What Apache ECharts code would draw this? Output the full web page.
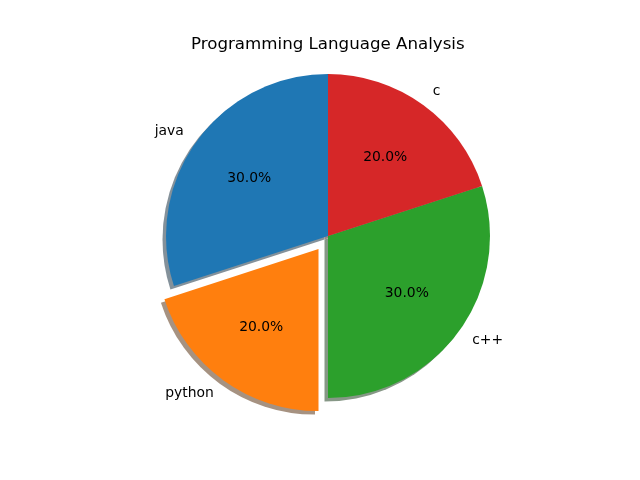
<!DOCTYPE html>
<html>
<head>
<meta charset="utf-8">
<script src="https://cdn.jsdelivr.net/npm/echarts@6/dist/echarts.min.js"></script>
<style>html,body{margin:0;padding:0;background:#fff}#c{width:640px;height:480px}</style>
</head>
<body>
<div id="c"></div>
<script>
const categories = ['java', 'python', 'c++', 'c'];
const values = [30, 20, 30, 20];
const colors = ['#1f77b4', '#ff7f0e', '#2ca02c', '#d62728'];
const shadowColors = ['rgb(132,145,154)', 'rgb(166,146,129)', 'rgb(134,151,134)', 'rgb(159,133,133)'];
const exploded = [false, true, false, false];
const titleText = 'Programming Language Analysis';

const R = 162, CX = 328, CY = 236;
const font = 'DejaVu Sans';

function items(colorArr) {
  return categories.map((name, i) => ({
    name: name,
    value: values[i],
    selected: exploded[i],
    itemStyle: { color: colorArr ? colorArr[i] : 'rgba(0,0,0,0)' }
  }));
}

const chart = echarts.init(document.getElementById('c'), null, { renderer: 'canvas' });
chart.setOption({
  animation: false,
  backgroundColor: '#ffffff',
  title: {
    text: titleText,
    left: 186,
    top: 31,
    textStyle: { fontFamily: font, fontSize: 16.67, fontWeight: 'normal', color: '#000' }
  },
  series: [
    {
      type: 'pie', silent: true, z: 1,
      center: [CX - 3.5, CY + 3.5], radius: [0, R],
      clockwise: false, startAngle: 90,
      selectedMode: 'multiple', selectedOffset: 16.2,
      avoidLabelOverlap: false,
      label: { show: false }, labelLine: { show: false },
      emphasis: { disabled: true },
      data: items(shadowColors)
    },
    {
      type: 'pie', silent: true, z: 2,
      center: [CX, CY], radius: [0, R],
      clockwise: false, startAngle: 90,
      selectedMode: 'multiple', selectedOffset: 16.2,
      avoidLabelOverlap: false,
      label: {
        show: true, position: 'outside', distanceToLabelLine: 0,
        fontFamily: font, fontSize: 13.9, color: '#000',
        formatter: p => p.name
      },
      labelLine: { show: false, length: 16.2, length2: 0 },
      emphasis: { disabled: true },
      data: items(colors)
    },
    {
      type: 'pie', silent: true, z: 3,
      center: [CX, CY], radius: [0, R * 1.165],
      clockwise: false, startAngle: 90,
      selectedMode: 'multiple', selectedOffset: 16.2,
      avoidLabelOverlap: false,
      label: {
        show: true, position: 'inside',
        fontFamily: font, fontSize: 13.9, color: '#000',
        formatter: p => p.percent.toFixed(1) + '%'
      },
      labelLine: { show: false },
      emphasis: { disabled: true },
      data: items(null)
    }
  ]
});
</script>
</body>
</html>
